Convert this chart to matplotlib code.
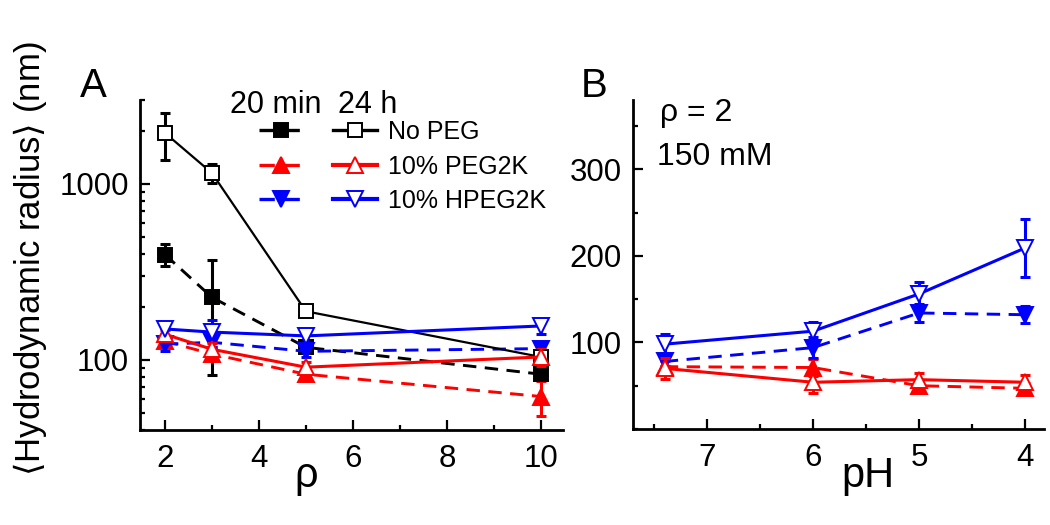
import matplotlib
matplotlib.use("Agg")
import matplotlib.pyplot as plt
from matplotlib import ticker
from matplotlib.lines import Line2D

plt.rcParams['font.family'] = ['Liberation Sans', 'DejaVu Sans']
plt.rcParams['mathtext.fontset'] = 'dejavusans'

# ---------------- Panel A data (vs rho) ----------------
rho = [2, 3, 5, 10]
nopeg_20min = [397, 227, 118, 83]
nopeg_20min_err = [56, 145, 6, 5]
nopeg_24h = [1950, 1154, 189, 104]
nopeg_24h_err = [580, 140, 10, 5]
peg_20min = [128, 108, 83, 62]
peg_20min_err = [8, 8, 6, 14]
peg_24h = [140, 115, 91, 104]
peg_24h_err = [8, 10, 7, 12]
hpeg_20min = [123, 126, 112, 116]
hpeg_20min_err = [10, 8, 8, 8]
hpeg_24h = [150, 144, 137, 156]
hpeg_24h_err = [15, 25, 12, 15]

# ---------------- Panel B data (vs pH) ----------------
pH = [7.4, 6, 5, 4]
peg_B_20min = [72, 71, 50, 47]
peg_B_20min_err = [7, 10, 6, 6]
peg_B_24h = [70, 54, 57, 54]
peg_B_24h_err = [12, 12, 8, 8]
hpeg_B_20min = [78, 94, 134, 132]
hpeg_B_20min_err = [5, 12, 10, 10]
hpeg_B_24h = [98, 113, 156, 209]
hpeg_B_24h_err = [12, 11, 14, 33]

legend_labels = ['No PEG', '10% PEG2K', '10% HPEG2K']
header_labels = ['20 min', '24 h']
rho_ticks = [2, 4, 6, 8, 10]
pH_ticks = [7, 6, 5, 4]
rad_B_ticks = [100, 200, 300]

BLACK, RED, BLUE = '#000000', '#ff0000', '#0000ff'
DASH = (4.6, 2.9)

fig = plt.figure(figsize=(10.5, 5.25), dpi=100)
axA = fig.add_axes([140/1050, 95/525, 423/1050, 330/525])
axB = fig.add_axes([633/1050, 96/525, 411/1050, 329/525])

def series(ax, x, y, err, color, marker, filled, dashed, ms, lw, z):
    kw = dict(color=color, lw=lw, marker=marker, ms=ms, mew=1.4,
              mfc=color if filled else 'white', mec=color, zorder=z)
    if dashed:
        kw.update(ls='--', dashes=DASH)
    else:
        kw.update(ls='-')
    ax.errorbar(x, y, yerr=err, fmt='none', ecolor=color, elinewidth=2.2,
                capsize=3.5, capthick=2.2, zorder=z - 0.5)
    ax.plot(x, y, **kw)

# Panel A
series(axA, rho, nopeg_20min, nopeg_20min_err, BLACK, 's', True, True, 9.5, 2.1, 3)
series(axA, rho, peg_20min, peg_20min_err, RED, '^', True, True, 11, 2.1, 3)
series(axA, rho, hpeg_20min, hpeg_20min_err, BLUE, 'v', True, True, 11, 2.1, 3)
series(axA, rho, nopeg_24h, nopeg_24h_err, BLACK, 's', False, False, 9.5, 1.6, 4)
series(axA, rho, peg_24h, peg_24h_err, RED, '^', False, False, 11, 2.2, 4)
series(axA, rho, hpeg_24h, hpeg_24h_err, BLUE, 'v', False, False, 11, 2.2, 4)

# Panel B
series(axB, pH, peg_B_20min, peg_B_20min_err, RED, '^', True, True, 11, 2.1, 3)
series(axB, pH, hpeg_B_20min, hpeg_B_20min_err, BLUE, 'v', True, True, 11, 2.1, 3)
series(axB, pH, peg_B_24h, peg_B_24h_err, RED, '^', False, False, 11, 2.2, 4)
series(axB, pH, hpeg_B_24h, hpeg_B_24h_err, BLUE, 'v', False, False, 11, 2.2, 4)

# Axes styling
for ax in (axA, axB):
    for s in ('top', 'right'):
        ax.spines[s].set_visible(False)
    for s in ('left', 'bottom'):
        ax.spines[s].set_linewidth(2.0)
    ax.tick_params(which='both', direction='in', width=1.6, labelsize=22.5)
    ax.tick_params(which='major', length=7)
    ax.tick_params(which='minor', length=3.5)
    ax.tick_params(axis='y', which='major', pad=8)
    ax.tick_params(axis='x', which='major', pad=10)

axA.set_yscale('log')
axA.set_ylim(40, 3000)
axA.set_xlim(1.47, 10.47)
axA.set_xticks(rho_ticks)
axA.xaxis.set_minor_locator(ticker.MultipleLocator(1))
axA.yaxis.set_major_locator(ticker.FixedLocator([100, 1000]))
axA.yaxis.set_major_formatter(ticker.FuncFormatter(lambda v, p: f'{v:g}'))
axA.yaxis.set_minor_locator(ticker.LogLocator(base=10, subs=range(2, 10)))
axA.yaxis.set_minor_formatter(ticker.NullFormatter())

axB.set_xlim(7.7, 3.82)
axB.set_ylim(0, 380)
axB.set_xticks(pH_ticks)
axB.xaxis.set_minor_locator(ticker.MultipleLocator(0.5))
axB.set_yticks(rad_B_ticks)
axB.yaxis.set_minor_locator(ticker.MultipleLocator(50))

# Axis labels
axA.set_xlabel('ρ', fontsize=30, va='baseline')
axA.xaxis.set_label_coords((306 - 140) / 423, (430 - 487) / 330)
axB.set_xlabel('pH', fontsize=30, va='baseline')
axB.xaxis.set_label_coords((868 - 633) / 411, (429 - 487) / 329)
fig.text(30 / 1050, 1 - 259 / 525, r'$\langle$Hydrodynamic radius$\rangle$ (nm)',
         rotation=90, ha='center', va='center', fontsize=25)

# Panel letters and annotations
fig.text(80 / 1050, 1 - 97 / 525, 'A', fontsize=29, va='baseline', ha='left')
fig.text(581 / 1050, 1 - 97 / 525, 'B', fontsize=29, va='baseline', ha='left')
axB.text((660 - 633) / 411, (429 - 121) / 329, 'ρ = 2', transform=axB.transAxes,
         fontsize=23, va='baseline', ha='left')
axB.text((657 - 633) / 411, (429 - 165) / 329, '150 mM', transform=axB.transAxes,
         fontsize=23, va='baseline', ha='left')

# Legend
def handle(color, marker, filled, dashed, lw):
    return Line2D([], [], color=color, marker=marker, ms=12 if marker != 's' else 10,
                  mfc=color if filled else 'white', mec=color, mew=1.4, lw=lw,
                  ls='--' if dashed else '-', dashes=DASH if dashed else (None, None))

h20 = [handle(BLACK, 's', True, True, 2.4), handle(RED, '^', True, True, 2.4),
       handle(BLUE, 'v', True, True, 2.4)]
h24 = [handle(BLACK, 's', False, False, 2.4), handle(RED, '^', False, False, 3.0),
       handle(BLUE, 'v', False, False, 3.0)]
leg = axA.legend(h20 + h24, [''] * 3 + legend_labels, ncol=2, frameon=False,
                 loc='upper left', bbox_to_anchor=((259 - 140) / 423, (430 - 120) / 330),
                 borderpad=0, borderaxespad=0, fontsize=18, handlelength=1.75,
                 handletextpad=0.45, columnspacing=0.75, labelspacing=0.42)
axA.text((276 - 140) / 423, (430 - 113) / 330, header_labels[0], transform=axA.transAxes,
         fontsize=22, ha='center', va='baseline')
axA.text((368 - 140) / 423, (430 - 113) / 330, header_labels[1], transform=axA.transAxes,
         fontsize=22, ha='center', va='baseline')

fig.savefig('out.png', dpi=100)
